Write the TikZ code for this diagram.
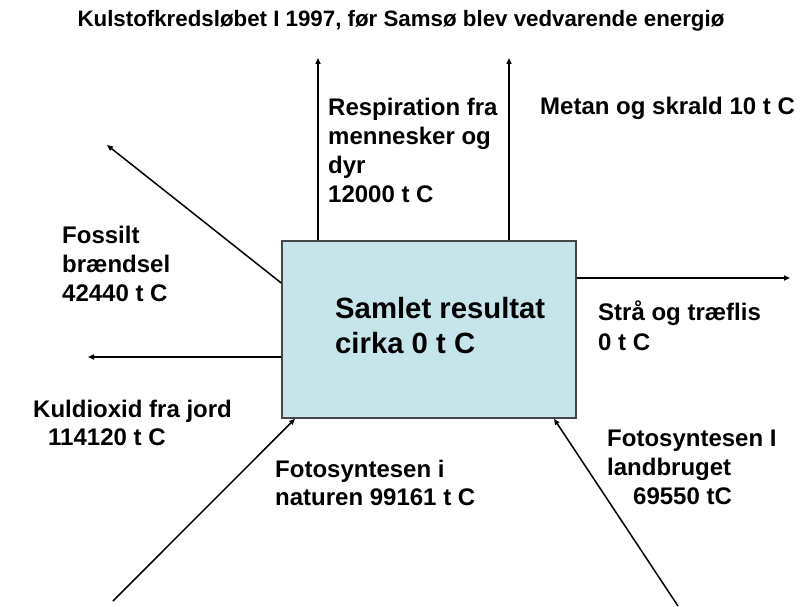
\documentclass[tikz,border=0pt]{standalone}
\usepackage{fontspec}
\setmainfont{Liberation Sans}
\usepackage{xcolor}
\usetikzlibrary{arrows.meta}
\definecolor{boxblue}{RGB}{198,229,234}
\definecolor{boxline}{RGB}{70,70,70}
\tikzset{
	flow/.style={->,line width=1.5pt},
	fluxtext/.style={anchor=base west,align=left,inner sep=0pt,font=\fontsize{24}{29}\selectfont\bfseries}
}
\begin{document}
\begin{tikzpicture}[x=1pt,y=-1pt,>={Triangle[length=6pt,width=5pt]}]
			\useasboundingbox (0,0) rectangle (800,607);
			\node[anchor=base,inner sep=0pt,font=\fontsize{22.3}{26}\selectfont\bfseries] (title) at (401,27)
			{Kulstofkredsløbet I 1997, før Samsø blev vedvarende energiø};
			
			\node[draw=boxline,fill=boxblue,line width=1.5pt,minimum width=294pt,minimum height=177pt,inner sep=0pt] (box) at (429,329.5){};
			% base = baseline of the last line
			\node[fluxtext,font=\fontsize{29.3}{35}\selectfont\bfseries] (result) at (335,353){Samlet resultat\\cirka 0 t C};
			
			\coordinate (resptip) at (318,58);
			\coordinate (metantip) at (509,58);
			\coordinate (fossiltip) at (107,145);
			\coordinate (straatip) at (790,278);
			\coordinate (jordtip) at (88,357);
			\coordinate (naturstart) at (113,601);
			\coordinate (landstart) at (678,606);
			
			\draw[flow] (resptip |- box.north) -- (resptip);
			\draw[flow] (metantip |- box.north) -- (metantip);
			\draw[flow] (box.west |- 0,283) -- (fossiltip);
			\draw[flow] (box.east |- straatip) -- (straatip);
			\draw[flow] (box.west |- jordtip) -- (jordtip);
			\draw[flow] (naturstart) -- (295,0 |- box.south);
			\draw[flow] (landstart) -- (554,0 |- box.south);
			
			\node[fluxtext] (resp) at (328,202){Respiration fra\\mennesker og\\dyr\\12000 t C};
			\node[fluxtext] (metan) at (540,115){Metan og skrald 10 t C};
			\node[fluxtext] (fossil) at (62,301){Fossilt\\brændsel\\42440 t C};
			\node[fluxtext,font=\fontsize{24}{30}\selectfont\bfseries] (straa) at (598,350){Strå og træflis\\0 t C};
			\node[fluxtext,font=\fontsize{24}{28}\selectfont\bfseries] (jord) at (33,445){Kuldioxid fra jord\\\hspace*{15pt}114120 t C};
			\node[fluxtext,font=\fontsize{24}{28}\selectfont\bfseries] (natur) at (275,505){Fotosyntesen i\\naturen 99161 t C};
			\node[fluxtext] (landbrug) at (607,504){Fotosyntesen I\\landbruget\\\hspace*{26pt}69550 tC};
		
		\end{tikzpicture}
\end{document}
